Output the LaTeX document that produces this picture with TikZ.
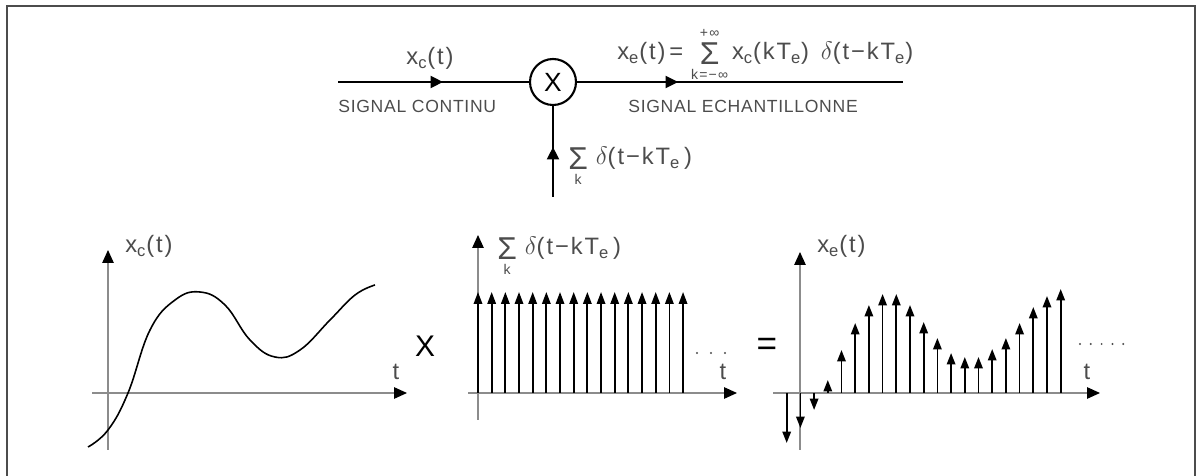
\documentclass[tikz,border=0pt]{standalone}
\usepackage{fontspec}
\setmainfont{Liberation Sans}
\newfontfamily\cadfont[LetterSpace=8]{Liberation Sans}
\newfontfamily\capsfont[LetterSpace=4]{Liberation Sans}
\usetikzlibrary{arrows.meta,decorations.markings,calc}
\definecolor{axisgray}{gray}{0.55}
\definecolor{txtgray}{gray}{0.3}
\definecolor{framegray}{gray}{0.3}

\newcommand{\limtxt}[1]{\mbox{\cadfont\fontsize{8}{8}\selectfont #1}}
\newcommand{\sumk}[2]{$\mathop{\vcenter{\hbox{\fontsize{18}{18}\selectfont Σ}}}\limits_{\limtxt{\rule{0pt}{7pt}#1}}^{\limtxt{\rule[-2pt]{0pt}{2pt}#2}}$}

\tikzset{
  frame/.style={framegray,line width=1.1pt},
  sig/.style={black,line width=1.2pt},
  midarrow/.style={postaction={decorate},decoration={markings,
      mark=at position #1 with {\arrow{Triangle[length=2.5mm,width=2.4mm]}}}},
  axis/.style={axisgray,line width=0.7pt,-{Triangle[length=2.6mm,width=2.3mm,color=black]}},
  impulse/.style={black,line width=1pt,-{Triangle[length=2.4mm,width=1.7mm]}},
  sample/.style={black,line width=1pt,-{Triangle[length=2.3mm,width=1.7mm]}},
  curve/.style={black,line width=0.9pt},
  lbl/.style={txtgray,font=\cadfont\fontsize{13.5}{14}\selectfont,inner sep=0pt},
  caps/.style={txtgray,font=\capsfont\fontsize{10}{11}\selectfont,inner sep=0pt},
  big/.style={black,font=\fontsize{17}{18}\selectfont,inner sep=0pt},
  dot/.style={txtgray}
}

\begin{document}
\begin{tikzpicture}[x=0.02cm,y=-0.02cm]
  \useasboundingbox (0,0) rectangle (1198,476);

  % outer frame, open at the bottom
  \draw[frame] (7,476) -- (7,6) -- (1195,6) -- (1195,476);

  % ---- sampler block ----
  \coordinate (in) at (338,82);
  \coordinate (out) at (903,82);
  \coordinate (comb) at (553,197);
  \node[draw,circle,line width=1.2pt,minimum size=0.92cm,inner sep=0pt,
        font=\fontsize{15}{15}\selectfont] (mult) at (553,82) {X};

  \draw[sig,midarrow=0.55] (in) -- (mult);
  \draw[sig,midarrow=0.31] (mult) -- (out);
  \draw[sig,midarrow=0.55] (comb) -- (mult);

  \node[lbl,anchor=base] (xcin) at (430,65) {x\textsubscript{c}(t)};
  \node[caps,anchor=base west] (cont) at (338,113) {SIGNAL CONTINU};
  \node[lbl,anchor=base west] (xeout) at (617,60)
    {x\textsubscript{e}(t)\,=\,\,\sumk{k=−∞}{+∞}\,x\textsubscript{c}(kT\textsubscript{e})\,\,\,$\delta$(t−kT\textsubscript{e})};
  \node[caps,anchor=base west] (ech) at (628,113) {SIGNAL ECHANTILLONNE};
  \node[lbl,anchor=base west] (combin) at (568,165)
    {\sumk{k}{}\,\,$\delta$(t−kT\textsubscript{e}\,)};

  % ---- continuous signal ----
  \draw[axis] (92,393) -- (407,393);
  \draw[axis] (108,450) -- (108,250);
  \draw[curve] plot[smooth,tension=0.7] coordinates {(88,447) (108,430) (128,393)
    (150,330) (175,300) (200,292) (225,305) (250,340) (275,357) (300,350)
    (330,320) (355,295) (375,285)};
  \node[lbl,anchor=base west] (xclbl) at (125,253) {x\textsubscript{c}(t)};
  \node[lbl,anchor=base] (t1) at (396,380) {t};

  \node[big] (times) at (425,346) {X};

  % ---- dirac comb ----
  \draw[axis] (468,393) -- (737,393);
  \draw[axis] (478,420) -- (478,235);
  \foreach \i in {0,...,15}
    \draw[impulse] (478+13.67*\i,393) -- (478+13.67*\i,292);
  \node[lbl,anchor=base west] (comblbl) at (497,255)
    {\sumk{k}{}\,\,$\delta$(t−kT\textsubscript{e}\,)};
  \foreach \i in {0,1,2}
    \fill[dot] (697+14*\i,353) circle (1.1);
  \node[lbl,anchor=base] (t2) at (723,380) {t};

  \node[big,font=\fontsize{20}{20}\selectfont] (equal) at (767,347) {=};

  % ---- sampled signal ----
  \draw[axis] (773,393) -- (1100,393);
  \draw[axis] (800,450) -- (800,252);
  \foreach \h [count=\i from 0] in {443,428,410,380,350,323,305,294,294,305,
      322,338,353,357,357,349,338,323,307,296,289}
    \draw[sample] (786.7+13.7*\i,393) -- (786.7+13.7*\i,\h);
  \node[lbl,anchor=base west] (xelbl) at (817,253) {x\textsubscript{e}(t)};
  \foreach \i in {0,...,4}
    \fill[dot] (1080+10.8*\i,344) circle (1.1);
  \node[lbl,anchor=base] (t3) at (1087,380) {t};
\end{tikzpicture}
\end{document}
